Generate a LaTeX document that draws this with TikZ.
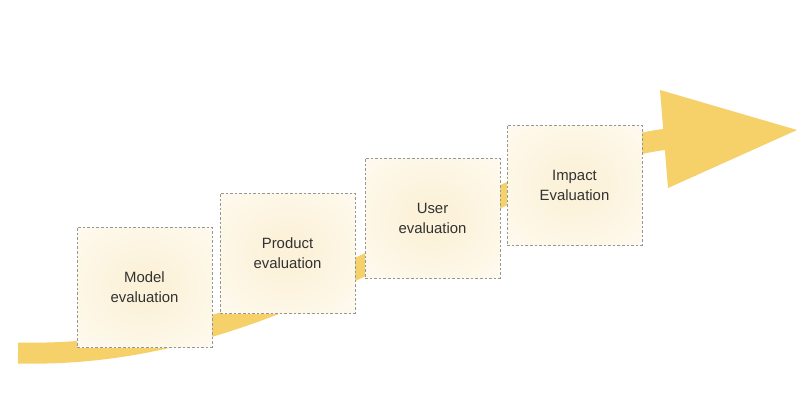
\documentclass[tikz,border=0pt]{standalone}
\usepackage{fontspec}
\setmainfont{Liberation Sans}
\definecolor{bandcol}{RGB}{246,208,104}
\definecolor{boxin}{RGB}{252,242,218}
\definecolor{boxout}{RGB}{255,253,247}
\definecolor{dashcol}{RGB}{150,150,150}
\definecolor{txtcol}{RGB}{50,50,50}
\pgfdeclareradialshading{boxshade}{\pgfpoint{0bp}{0bp}}{color(0bp)=(boxin); color(8bp)=(boxin); color(45bp)=(boxout); color(50bp)=(boxout)}
\tikzset{
  stagebox/.style={draw=dashcol, line width=1pt, dash pattern=on 2.6pt off 2pt,
    shading=boxshade, minimum width=135pt, minimum height=120pt,
    align=center, text=txtcol, font=\fontsize{14.9}{20}\selectfont},
  band/.style={draw=bandcol, line width=21pt},
}
\begin{document}
\begin{tikzpicture}[x=1pt,y=-1pt]
\useasboundingbox (0,0) rectangle (800,420);
\fill[white] (0,0) rectangle (800,420);
\coordinate (start) at (18,353);
\coordinate (shaftend) at (668,139);
\coordinate (headtop) at (660,90);
\coordinate (headtip) at (797,130);
\coordinate (headbot) at (668,188);
\draw[band] (start) .. controls (300,360) and (490,160) .. (shaftend);
\fill[bandcol] (headtop) -- (headtip) -- (headbot) -- cycle;
\node[stagebox] (model) at (144.5,287) {Model\\evaluation};
\node[stagebox] (product) at (287.5,253) {Product\\evaluation};
\node[stagebox] (user) at (432.5,218) {User\\evaluation};
\node[stagebox] (impact) at (574.5,185) {Impact\\Evaluation};
\end{tikzpicture}
\end{document}
